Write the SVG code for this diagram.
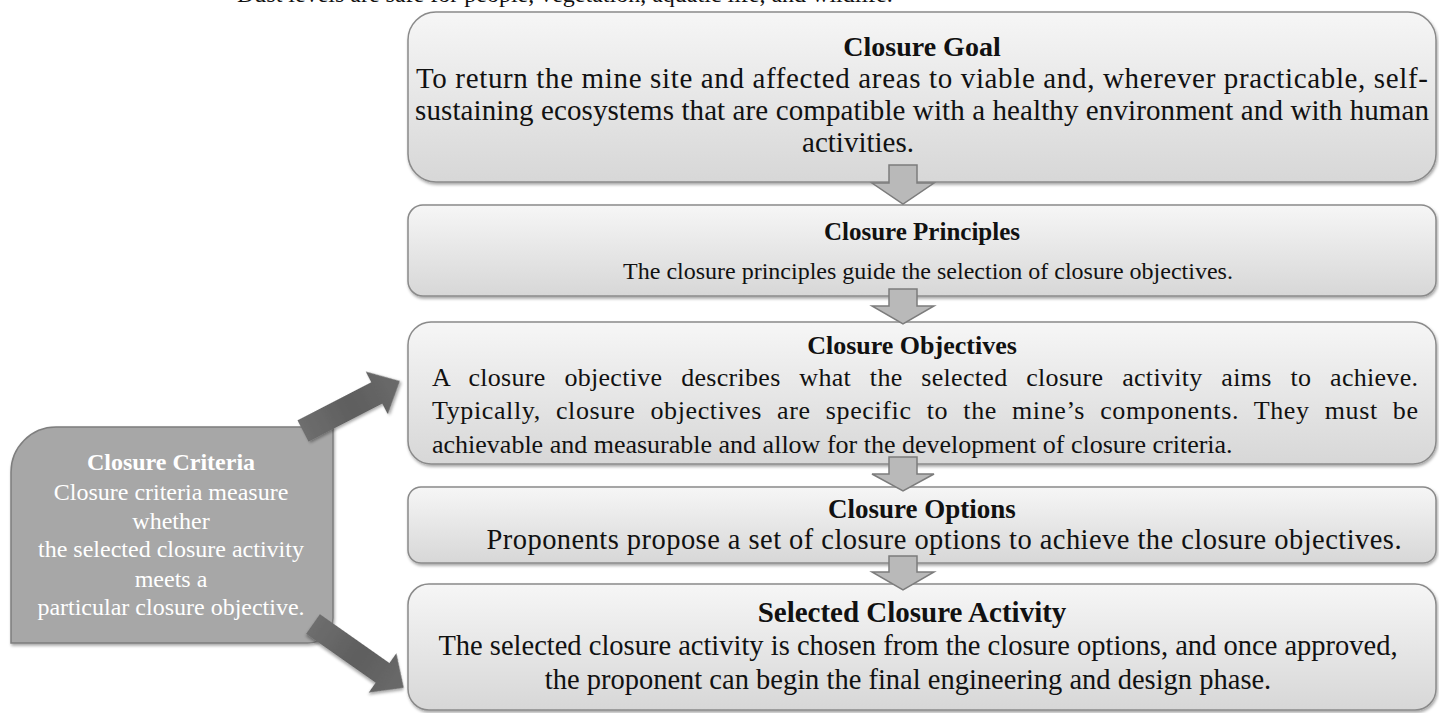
<svg xmlns="http://www.w3.org/2000/svg" width="1439" height="713" viewBox="0 0 1439 713">
<defs>
<linearGradient id="boxg" x1="0" y1="0" x2="0" y2="1">
<stop offset="0" stop-color="#f6f6f6"/>
<stop offset="1" stop-color="#d7d7d7"/>
</linearGradient>
<linearGradient id="darkg" x1="0" y1="0" x2="1" y2="0">
<stop offset="0" stop-color="#6e6e6e"/>
<stop offset="0.5" stop-color="#5e5e5e"/>
<stop offset="1" stop-color="#6a6a6a"/>
</linearGradient>
<filter id="sh" x="-5%" y="-10%" width="110%" height="125%">
<feDropShadow dx="1" dy="2" stdDeviation="1.5" flood-color="#000" flood-opacity="0.35"/>
</filter>
</defs>
<style>
.box{fill:url(#boxg);stroke:#8a8a8a;stroke-width:1.5;filter:url(#sh)}
.t{font-family:"Liberation Serif","Times New Roman",serif;fill:#111;text-anchor:middle}
.s{text-anchor:start}
.b{font-weight:bold}
.w{fill:#fff}
.down{fill:#b9b9b9;stroke:#7c7c7c;stroke-width:1.5}
.thick{fill:url(#darkg);filter:url(#sh)}
</style>

<text class="t s" x="237" y="2" font-size="24">Dust levels are safe for people, vegetation, aquatic life, and wildlife.</text>

<g id="goal">
<rect class="box" x="408" y="12" width="1028" height="170" rx="28"/>
<text class="t b" x="922" y="56" font-size="28">Closure Goal</text>
<text class="t" x="922" y="88" font-size="29" textLength="1012" lengthAdjust="spacing">To return the mine site and affected areas to viable and, wherever practicable, self-</text>
<text class="t" x="922" y="120" font-size="29" textLength="1014" lengthAdjust="spacing">sustaining ecosystems that are compatible with a healthy environment and with human</text>
<text class="t" x="858" y="152" font-size="29">activities.</text>
</g>

<g id="principles">
<rect class="box" x="408" y="205" width="1028" height="91" rx="15"/>
<text class="t b" x="922" y="240" font-size="25">Closure Principles</text>
<text class="t" x="928" y="279" font-size="24">The closure principles guide the selection of closure objectives.</text>
</g>

<g id="objectives">
<rect class="box" x="408" y="322" width="1028" height="142" rx="23"/>
<text class="t b" x="912" y="354" font-size="26">Closure Objectives</text>
<text class="t s" x="432" y="386" font-size="26" textLength="986" lengthAdjust="spacing" word-spacing="12">A closure objective describes what the selected closure activity aims to achieve.</text>
<text class="t s" x="432" y="419" font-size="26" textLength="986" lengthAdjust="spacing" word-spacing="8">Typically, closure objectives are specific to the mine’s components. They must be</text>
<text class="t s" x="432" y="453" font-size="26">achievable and measurable and allow for the development of closure criteria.</text>
</g>

<g id="options">
<rect class="box" x="408" y="487" width="1028" height="76" rx="13"/>
<text class="t b" x="922" y="518" font-size="27">Closure Options</text>
<text class="t" x="944" y="549" font-size="28.5" textLength="915" lengthAdjust="spacing">Proponents propose a set of closure options to achieve the closure objectives.</text>
</g>

<g id="activity">
<rect class="box" x="408" y="584" width="1028" height="126" rx="21"/>
<text class="t b" x="912" y="622" font-size="29">Selected Closure Activity</text>
<text class="t" x="918" y="655" font-size="28.5">The selected closure activity is chosen from the closure options, and once approved,</text>
<text class="t" x="908" y="689" font-size="28.5">the proponent can begin the final engineering and design phase.</text>
</g>

<g id="criteria">
<path d="M56 427 H333 V618 A25 25 0 0 1 308 643 H11 V472 A45 45 0 0 1 56 427 Z" fill="#a7a7a7" stroke="#7e7e7e" stroke-width="1.5" filter="url(#sh)"/>
<text class="t b w" x="171" y="470" font-size="24">Closure Criteria</text>
<text class="t w" x="171" y="500" font-size="24">Closure criteria measure</text>
<text class="t w" x="171" y="529" font-size="24">whether</text>
<text class="t w" x="171" y="557" font-size="24">the selected closure activity</text>
<text class="t w" x="171" y="587" font-size="24">meets a</text>
<text class="t w" x="171" y="615" font-size="24">particular closure objective.</text>
</g>

<g id="connectors">
<path class="down" d="M889 165 H917 V183 H934 L903 204 L872 183 H889 Z"/>
<path class="down" d="M889 289 H917 V306 H934 L903 324 L872 306 H889 Z"/>
<path class="down" d="M889 457 H917 V474 H934 L903 491 L872 474 H889 Z"/>
<path class="down" d="M889 556 H917 V572 H934 L903 590 L872 572 H889 Z"/>
<polygon class="thick" points="0,-12 83,-12 83,-24 109,0 83,24 83,12 0,12" transform="translate(303,431) rotate(-27.3)"/>
<polygon class="thick" points="0,-12 85,-12 85,-24 111,0 85,24 85,12 0,12" transform="translate(313,624) rotate(35.1)"/>
</g>
</svg>
